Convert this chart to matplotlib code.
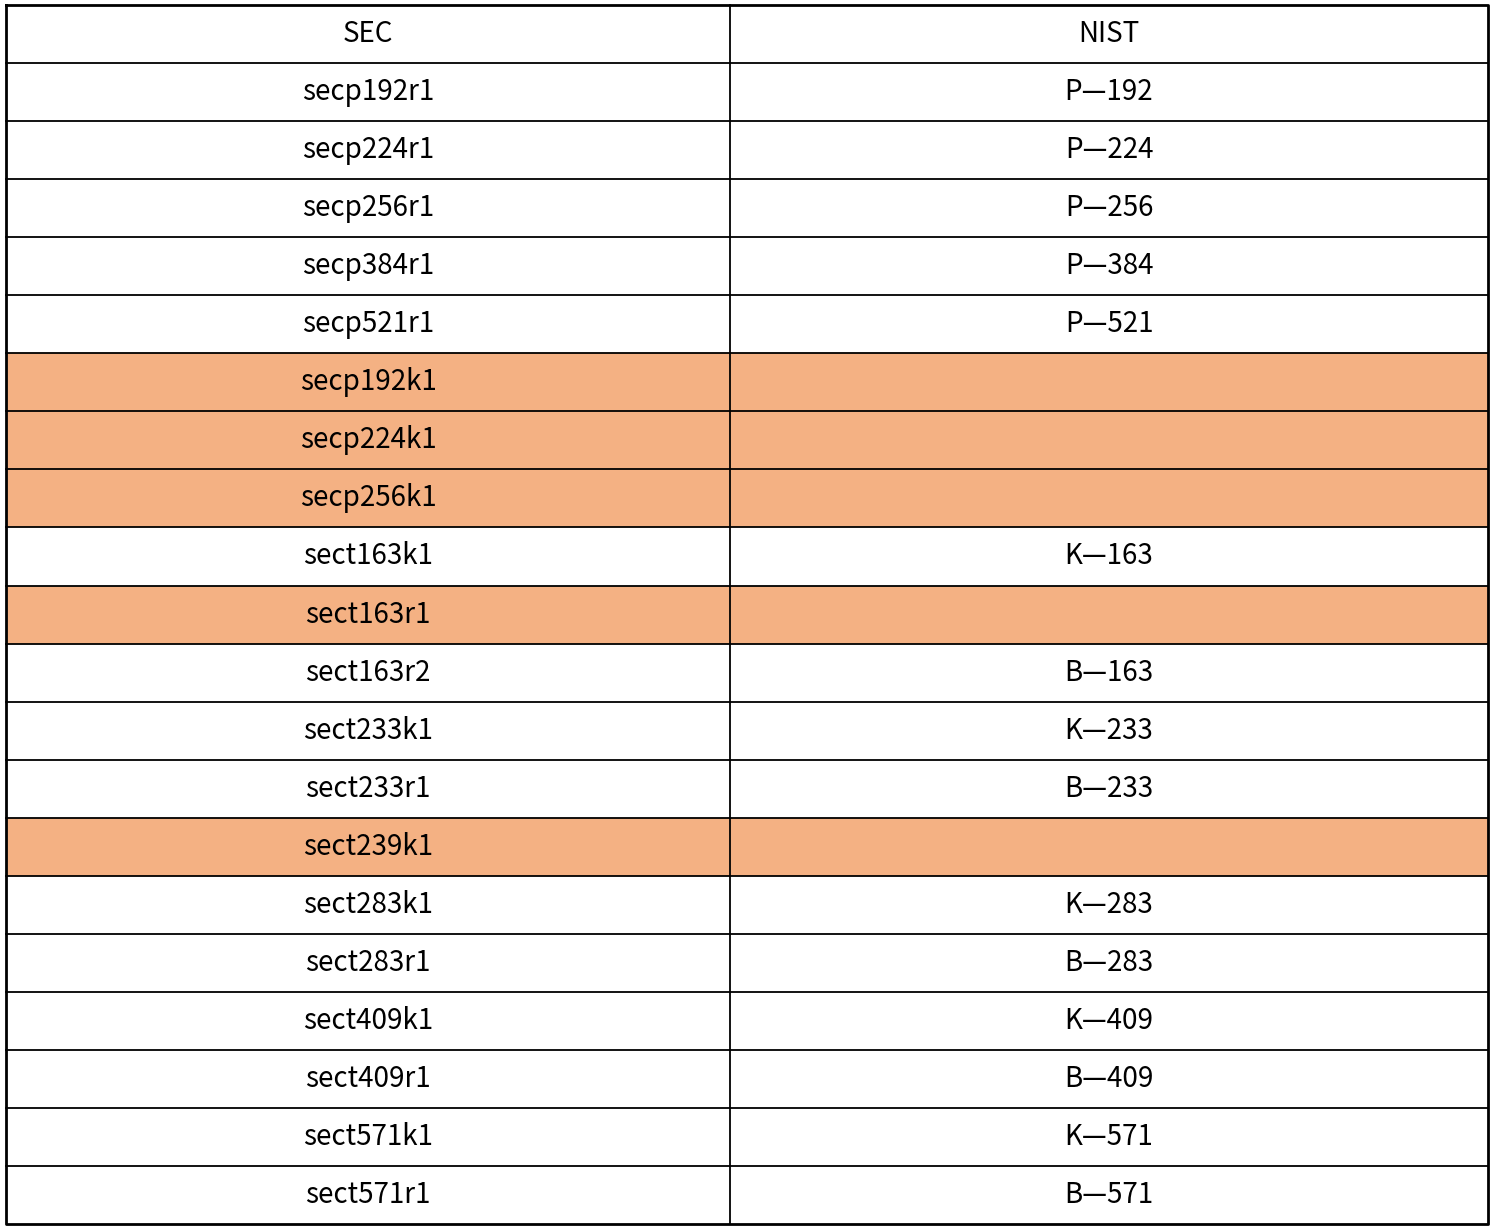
import matplotlib.pyplot as plt

plt.rcParams['font.family'] = ['Noto Sans CJK SC', 'DejaVu Sans']

# Table contents
header = ["SEC", "NIST"]
sec_names = ["secp192r1", "secp224r1", "secp256r1", "secp384r1", "secp521r1",
             "secp192k1", "secp224k1", "secp256k1", "sect163k1", "sect163r1",
             "sect163r2", "sect233k1", "sect233r1", "sect239k1", "sect283k1",
             "sect283r1", "sect409k1", "sect409r1", "sect571k1", "sect571r1"]
nist_names = ["P—192", "P—224", "P—256", "P—384", "P—521",
              "", "", "", "K—163", "",
              "B—163", "K—233", "B—233", "", "K—283",
              "B—283", "K—409", "B—409", "K—571", "B—571"]

highlight = "#f4b183"

fig = plt.figure(figsize=(14.98, 12.30), dpi=100)
ax = fig.add_axes([0, 0, 1, 1])
ax.set_xlim(0, 1498)
ax.set_ylim(1230, 0)
ax.axis('off')

left, mid, right = 6, 730, 1488
top, row_h = 5, 58.05
n_rows = len(sec_names) + 1
bottom = top + row_h * n_rows

# Highlighted rows (no NIST equivalent)
for i, name in enumerate(nist_names):
    y0 = top + row_h * (i + 1)
    if name == "":
        ax.fill_between([left, right], y0, y0 + row_h, color=highlight, lw=0)

# Grid lines
for r in range(1, n_rows):
    y = top + row_h * r
    ax.plot([left, right], [y, y], color='black', lw=1.3)
ax.plot([mid, mid], [top, bottom], color='black', lw=1.3)
ax.plot([left, right, right, left, left], [top, top, bottom, bottom, top],
        color='black', lw=2)

# Text
fs = 20
cx1, cx2 = (left + mid) / 2, (mid + right) / 2
ax.text(cx1, top + row_h / 2, header[0], ha='center', va='center', fontsize=fs)
ax.text(cx2, top + row_h / 2, header[1], ha='center', va='center', fontsize=fs)
for i, (s, n) in enumerate(zip(sec_names, nist_names)):
    yc = top + row_h * (i + 1.5)
    ax.text(cx1, yc, s, ha='center', va='center', fontsize=fs)
    if n:
        ax.text(cx2, yc, n, ha='center', va='center', fontsize=fs)

fig.savefig("out.png", dpi=100)
